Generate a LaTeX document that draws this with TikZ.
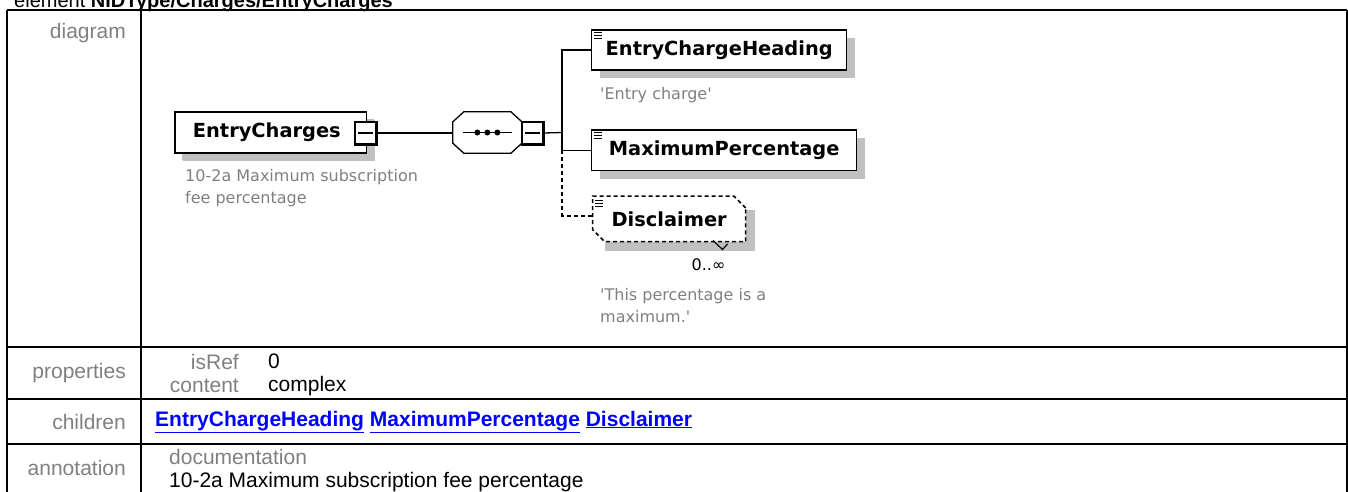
\documentclass[tikz,border=0pt]{standalone}
\usepackage{fontspec}
\setmainfont{Liberation Sans}
\newfontfamily\dvs{DejaVu Sans}
\usetikzlibrary{shapes.misc,shadows,calc}
\definecolor{shgray}{RGB}{192,192,192}
\definecolor{labgray}{RGB}{128,128,128}
\definecolor{linkblue}{RGB}{0,0,255}
\begin{document}
\begin{tikzpicture}[x=1pt,y=-1pt,
  tbl/.style={line width=2pt},
  lab/.style={inner sep=0pt,font=\fontsize{21}{24}\selectfont,text=labgray},
  val/.style={inner sep=0pt,font=\fontsize{21}{24}\selectfont,text=black},
  elbox/.style={draw,line width=1.5pt,fill=white,inner sep=0pt,
    font=\dvs\bfseries\fontsize{19.4}{22}\selectfont,
    drop shadow={shadow xshift=8pt,shadow yshift=-8pt,fill=shgray,opacity=1}},
  topbox/.style={elbox,drop shadow={shadow xshift=7pt,shadow yshift=-7pt,fill=shgray,opacity=1}},
  minbox/.style={draw,fill=white,line width=1.2pt,inner sep=0pt,minimum width=21pt,minimum height=22pt},
  seqnode/.style={inner sep=0pt,minimum width=68.7pt,minimum height=41pt},
  conn/.style={line width=1.3pt},
  dconn/.style={line width=1.3pt,dash pattern=on 4pt off 3pt},
  ann/.style={inner sep=0pt,text=labgray,align=left,font=\dvs\fontsize{16}{22}\selectfont},
  icon/.style={line width=1.2pt}
]
\clip (0,0) rectangle (1348,491);
\fill[white] (0,0) rectangle (1348,491);

% title (cut off at top)
\node[inner sep=0pt,anchor=base west,font=\fontsize{20}{24}\selectfont] (title) at (14,7.5) {element \textbf{NIDType/Charges/EntryCharges}};

% table frame
\draw[tbl] (7,10) -- (1346.5,10);
\draw[tbl] (7,10) -- (7,495);
\draw[tbl] (141,10) -- (141,495);
\draw[tbl] (1346.5,10) -- (1346.5,495);
\draw[tbl] (7,347.3) -- (1346.5,347.3);
\draw[tbl] (7,399) -- (1346.5,399);
\draw[tbl] (7,444) -- (1346.5,444);

% row labels
\node[lab,anchor=east] (ldiag) at (126,33) {diagram};
\node[lab,anchor=east] (lprop) at (126,372.7) {properties};
\node[lab,anchor=east] (lchild) at (126,421.7) {children};
\node[lab,anchor=east] (lannot) at (126,468) {annotation};

% properties
\node[lab,anchor=east] (pisref) at (239,361.7) {isRef};
\node[lab,anchor=east] (pcontent) at (239,385.7) {content};
\node[val,anchor=west] (visref) at (268,361.7) {0};
\node[val,anchor=west] (vcontent) at (268,385.7) {complex};

% children
\node[val,anchor=base west,text=linkblue,font=\bfseries\fontsize{21}{24}\selectfont] (links) at (155,426)
  {\underline{EntryChargeHeading} \underline{MaximumPercentage} \underline{Disclaimer}};

% annotation
\node[lab,anchor=west] (docl) at (169,457) {documentation};
\node[val,anchor=west] (doct) at (169,482) {10-2a Maximum subscription fee percentage};

% ---- diagram ----
\node[topbox,minimum width=191.7pt,minimum height=41pt] (ec) at (270.85,132.5) {\hspace*{-8pt}EntryCharges};
\node[minbox] (ecm) at (365.5,133) {};
\draw[line width=2.5pt] (ecm.north east) -- (ecm.south east) -- (ecm.south west);
\draw[line width=1.3pt] ($(ecm.west)+(4,0)$) -- ($(ecm.east)+(-4,0)$);
\node[ann,anchor=west] (ecann) at (185,188.3) {10-2a Maximum subscription\\fee percentage};

% sequence compositor (octagon)
\node[seqnode] (seq) at (487.35,132.5) {};
\fill[shgray,shift={(7,7)}] ($(seq.north west)+(11,0)$) -- ($(seq.north east)+(-11,0)$) -- ($(seq.north east)+(0,10)$)
  -- ($(seq.south east)+(0,-10)$) -- ($(seq.south east)+(-11,0)$) -- ($(seq.south west)+(11,0)$)
  -- ($(seq.south west)+(0,-10)$) -- ($(seq.north west)+(0,10)$) -- cycle;
\draw[line width=1.3pt,fill=white] ($(seq.north west)+(11,0)$) -- ($(seq.north east)+(-11,0)$) -- ($(seq.north east)+(0,10)$)
  -- ($(seq.south east)+(0,-10)$) -- ($(seq.south east)+(-11,0)$) -- ($(seq.south west)+(11,0)$)
  -- ($(seq.south west)+(0,-10)$) -- ($(seq.north west)+(0,10)$) -- cycle;
\draw[line width=1.5pt] ($(seq.west)+(10,0)$) -- ($(seq.east)+(-10,0)$);
\foreach \dx in {-10,0,10} \fill ($(seq.center)+(\dx,0)$) circle (3pt);
\node[minbox] (seqm) at (532.5,133) {};
\draw[line width=2.5pt] (seqm.north east) -- (seqm.south east) -- (seqm.south west);
\draw[line width=1.3pt] ($(seqm.west)+(4,0)$) -- ($(seqm.east)+(-4,0)$);

\draw[conn] (ecm.east) -- (ecm.east -| seq.west);

% children boxes
\node[elbox,minimum width=255pt,minimum height=40pt] (ech) at (719.2,50) {EntryChargeHeading};
\node[ann,anchor=west] (echann) at (600,95) {'Entry charge'};

\node[elbox,minimum width=265pt,minimum height=40.7pt] (mp) at (724.2,150.35) {MaximumPercentage};

\fill[shgray] (605,210) rectangle (755,250.7);
\node[draw,fill=white,line width=1.5pt,dash pattern=on 4pt off 3pt,inner sep=0pt,
  chamfered rectangle,chamfered rectangle corners={north east,south west},chamfered rectangle sep=6pt,
  minimum width=153pt,minimum height=45.7pt,font=\dvs\bfseries\fontsize{19.4}{22}\selectfont] (disc) at (669.2,218.85) {Disclaimer};
\draw[line width=1.2pt] (713,240.5) -- (722.5,249.5) -- (727.5,244);
\node[inner sep=0pt,font=\dvs\fontsize{16}{20}\selectfont] (occ) at (708.5,265) {0..∞};
\node[ann,anchor=west] (discann) at (600,305.8) {'This percentage is a\\maximum.'};

% icons
\foreach \n in {ech,mp}
  \foreach \k in {3.5,6.5,9.5}
    \draw[icon] ($(\n.north west)+(3.5,\k)$) -- ++(8,0);
\foreach \k in {5,8,11}
  \draw[icon] ($(disc.north west)+(3.5,\k)$) -- ++(8,0);

% connectors
\coordinate (bus) at (562,132.5);
\draw[conn] (seqm.east) -- (bus);
\draw[conn] (bus) |- (ech.west);
\draw[conn] (bus) |- (mp.west);
\draw[dconn] (bus |- mp.west) |- ($(disc.west)+(0,-3)$);
\end{tikzpicture}
\end{document}
